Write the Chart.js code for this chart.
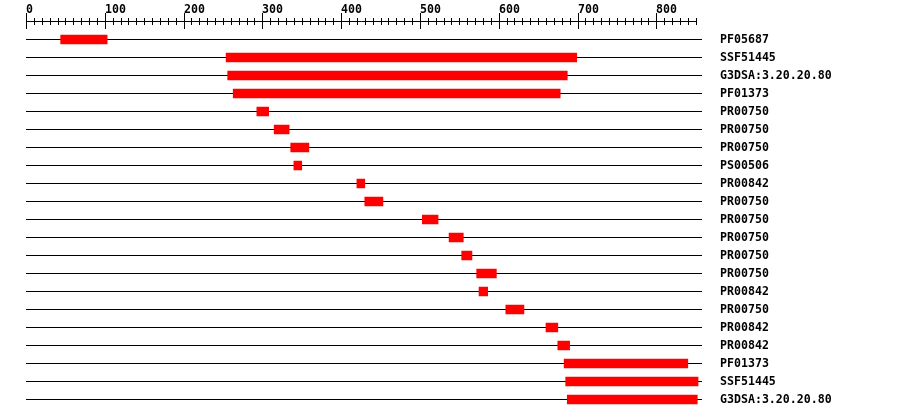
<!DOCTYPE html>
<html lang="en">
<head>
  <meta charset="UTF-8">
  <title>Domain map</title>
  <style>
    body {
      margin: 0;
      background: #fff;
    }
    canvas {
      display: block;
    }
  </style>
</head>
<body>
  <canvas id="chart" width="900" height="418"></canvas>

  <script src="https://cdn.jsdelivr.net/npm/chart.js"></script>
  <script>
    // domain hits, top to bottom
    const domainNames = [
      'PF05687', 'SSF51445', 'G3DSA:3.20.20.80', 'PF01373',
      'PR00750', 'PR00750', 'PR00750', 'PS00506', 'PR00842',
      'PR00750', 'PR00750', 'PR00750', 'PR00750', 'PR00750',
      'PR00842', 'PR00750', 'PR00842', 'PR00842',
      'PF01373', 'SSF51445', 'G3DSA:3.20.20.80'
    ];
    const domainStart = [44, 254, 256, 263, 293, 315, 336, 340, 420, 430, 503, 537, 553, 572, 575, 609, 660, 675, 683, 685, 687];
    const domainEnd   = [103, 699, 687, 678, 308, 334, 359, 350, 430, 453, 523, 555, 566, 597, 586, 632, 675, 690, 840, 853, 852];

    const seqLength = 858;
    const rulerLabels = [0, 100, 200, 300, 400, 500, 600, 700, 800];
    const rulerEnd = 850;

    const FONT = 'DejaVu Sans Mono';
    const FONT_SIZE = 11.6;

    // ruler along the top, drawn off the x scale
    const rulerPlugin = {
      id: 'ruler',
      afterDraw(chart) {
        const x = chart.scales.x;
        const ctx = chart.ctx;
        const px = v => Math.round(x.getPixelForValue(v)) + 0.5;
        ctx.save();
        ctx.strokeStyle = '#000';
        ctx.lineWidth = 1;
        ctx.beginPath();
        ctx.moveTo(px(0), 21.5);
        ctx.lineTo(px(rulerEnd), 21.5);
        for (let v = 0; v <= rulerEnd; v += 10) {
          const major = v % 100 === 0;
          ctx.moveTo(px(v), major ? 13 : 18);
          ctx.lineTo(px(v), major ? 29 : 25);
        }
        ctx.stroke();
        ctx.fillStyle = '#000';
        ctx.font = 'bold ' + FONT_SIZE + 'px "' + FONT + '"';
        ctx.textAlign = 'left';
        ctx.textBaseline = 'alphabetic';
        rulerLabels.forEach(v => {
          ctx.fillText(String(v), Math.round(x.getPixelForValue(v)), 12.5);
        });
        ctx.restore();
      }
    };

    new Chart(document.getElementById('chart'), {
      type: 'bar',
      data: {
        labels: domainNames,
        datasets: [{
          data: domainStart.map((s, i) => [s, domainEnd[i]]),
          backgroundColor: '#ff0000',
          borderWidth: 0,
          borderSkipped: false,
          barThickness: 9
        }]
      },
      options: {
        indexAxis: 'y',
        responsive: false,
        animation: false,
        layout: {
          padding: { left: 26, top: 30.5, bottom: 9.5, right: 0 }
        },
        plugins: {
          legend: { display: false },
          tooltip: { enabled: false }
        },
        scales: {
          x: {
            type: 'linear',
            min: 0,
            max: seqLength,
            display: false
          },
          y: {
            position: 'right',
            offset: true,
            afterFit(scale) {
              scale.width = 198;
            },
            grid: {
              offset: false,
              color: '#000',
              lineWidth: 1,
              drawTicks: true,
              tickLength: 18,
              tickColor: 'rgba(0,0,0,0)'
            },
            border: { display: false },
            ticks: {
              autoSkip: false,
              crossAlign: 'near',
              padding: 0,
              color: '#000',
              font: { family: FONT, size: FONT_SIZE, weight: 'bold' }
            }
          }
        }
      },
      plugins: [rulerPlugin]
    });
  </script>
</body>
</html>
